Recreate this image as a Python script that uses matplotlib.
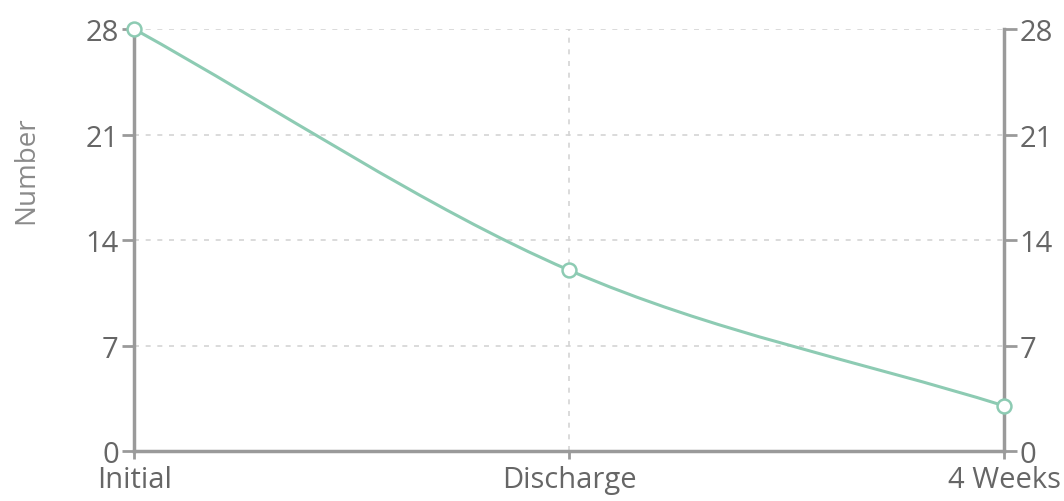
import matplotlib.pyplot as plt
import numpy as np
from matplotlib.path import Path
from matplotlib.patches import PathPatch

plt.rcParams['font.family'] = ['Open Sans', 'DejaVu Sans']

categories = ['Initial', 'Discharge', '4 Weeks']
values = [28, 12, 3]
y_ticks = [0, 7, 14, 21, 28]

line_color = '#8dcbb3'
axis_color = '#9a9a9a'
text_color = '#666666'

fig = plt.figure(figsize=(10.64, 5.02), dpi=100)
ax = fig.add_axes([0.126, 0.0996, 0.8176, 0.8406])

x = np.arange(len(categories))
y = np.array(values, dtype=float)

# smooth curve through the points (cubic bezier segments, averaged tangents)
slopes = np.diff(y) / np.diff(x)
tang = np.zeros_like(y)
tang[0] = slopes[0]
tang[-1] = slopes[-1]
for i in range(1, len(y) - 1):
    tang[i] = (slopes[i - 1] + slopes[i]) / 2
verts = [(x[0], y[0])]
codes = [Path.MOVETO]
for i in range(len(x) - 1):
    h = x[i + 1] - x[i]
    verts += [(x[i] + h / 3, y[i] + tang[i] * h / 3),
              (x[i + 1] - h / 3, y[i + 1] - tang[i + 1] * h / 3),
              (x[i + 1], y[i + 1])]
    codes += [Path.CURVE4] * 3
ax.add_patch(PathPatch(Path(verts, codes), facecolor='none', edgecolor=line_color, lw=2.2, zorder=3))
ax.plot(x, y, 'o', ms=10, mfc='white', mec=line_color, mew=1.8, zorder=4, clip_on=False)

ax.set_xlim(0, len(categories) - 1)
ax.set_ylim(0, 28)
ax.set_xticks(x)
ax.set_xticklabels(categories)
ax.set_yticks(y_ticks)

ax.grid(True, color='#d4d4d4', linestyle=(0, (3, 4)), lw=1.2)
ax.set_axisbelow(True)

for side in ['left', 'bottom', 'right']:
    ax.spines[side].set_color(axis_color)
    ax.spines[side].set_linewidth(2.5)
ax.spines['top'].set_visible(False)

ax.tick_params(axis='both', colors=axis_color, labelcolor=text_color, labelsize=21,
               length=9, width=2, pad=2)
ax.tick_params(axis='x', length=6, pad=4)

ax2 = ax.twinx()
ax2.set_ylim(0, 28)
ax2.set_yticks(y_ticks)
for side in ['left', 'bottom', 'right', 'top']:
    ax2.spines[side].set_visible(False)
ax2.tick_params(axis='y', colors=axis_color, labelcolor=text_color, labelsize=21,
                length=9, width=2, pad=2)

fig.text(0.025, 0.66, 'Number', rotation=90, ha='center', va='center',
         color='#8a8a8a', fontsize=20)

fig.savefig('out.png', dpi=100)
